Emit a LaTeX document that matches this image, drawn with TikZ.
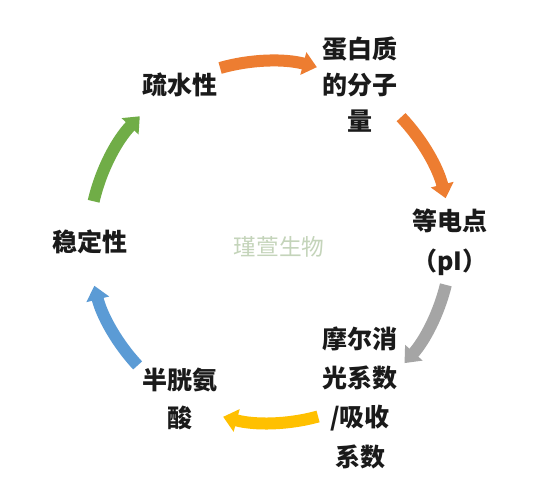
\documentclass[tikz,border=0pt]{standalone}
\usepackage{fontspec}
\newfontfamily\cjk{Noto Sans CJK SC}
\usetikzlibrary{arrows.meta}
\definecolor{oorange}{HTML}{ED7D31}
\definecolor{ogray}{HTML}{A5A5A5}
\definecolor{oyellow}{HTML}{FFC000}
\definecolor{oblue}{HTML}{5B9BD5}
\definecolor{ogreen}{HTML}{70AD47}
\definecolor{wmark}{RGB}{196,212,186}
\definecolor{txt}{HTML}{1A1A1A}
\tikzset{
  cyc/.style={line width=9pt, -{Triangle[width=17pt,length=10.5pt]}},
  lbl/.style={font=\cjk\bfseries\fontsize{18.75pt}{#1}\selectfont, text=txt, align=center, inner sep=0pt},
  lbl/.default={28pt}
}
\begin{document}
\begin{tikzpicture}[x=0.75pt,y=0.75pt]
\useasboundingbox[fill=white] (0,0) rectangle (560,495);
\coordinate (C) at (270,253);
% labels
\node[lbl] (hyd) at (180,410) {疏水性};
\node[lbl={27pt}] (mw) at (360,410) {蛋白质\\的分子\\量};
\node[lbl={30pt}] (pi) at (450,253) {等电点\\（pI）};
\node[lbl={29.5pt}] (ext) at (360,97.5) {摩尔消\\光系数\\/吸收\\系数};
\node[lbl={28.5pt}] (cys) at (180,96) {半胱氨\\酸};
\node[lbl] (stab) at (90,253) {稳定性};
\node[font=\cjk\fontsize{17pt}{20pt}\selectfont, text=wmark] (wm) at (279,248) {瑾萱生物};
% arrows
\def\R{181}
\draw[cyc, oorange] ([shift={(106:\R)}]C) arc[start angle=106, end angle=75, radius=\R];
\draw[cyc, oorange] ([shift={(43.6:\R)}]C) arc[start angle=43.6, end angle=14, radius=\R];
\draw[cyc, ogray] ([shift={(-13.7:\R)}]C) arc[start angle=-13.7, end angle=-42, radius=\R];
\draw[cyc, oyellow] ([shift={(-74.6:\R)}]C) arc[start angle=-74.6, end angle=-105, radius=\R];
\draw[cyc, oblue] ([shift={(-137:\R)}]C) arc[start angle=-137, end angle=-166, radius=\R];
\draw[cyc, ogreen] ([shift={(167:\R)}]C) arc[start angle=167, end angle=136, radius=\R];
\end{tikzpicture}
\end{document}
